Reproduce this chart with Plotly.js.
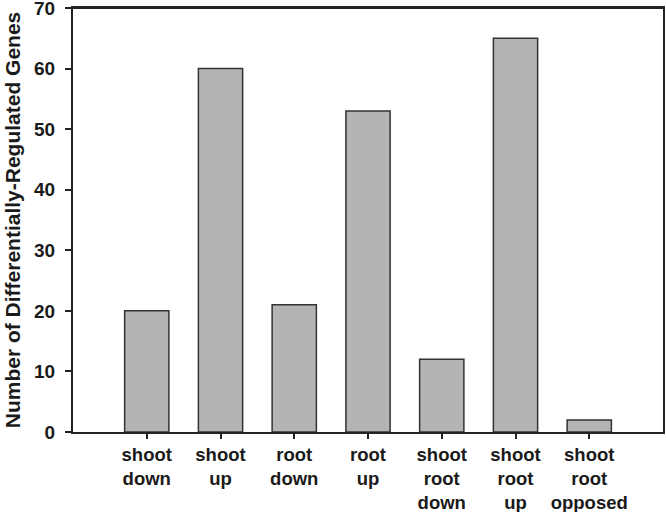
<!DOCTYPE html>
<html>
<head>
<meta charset="utf-8">
<script src="https://cdn.plot.ly/plotly-3.0.1.min.js"></script>
<style>html,body{margin:0;padding:0;background:#fff;}#chart{width:666px;height:512px;}</style>
</head>
<body>
<div id="chart"></div>
<script>
const categories = ["shoot<br>down", "shoot<br>up", "root<br>down", "root<br>up", "shoot<br>root<br>down", "shoot<br>root<br>up", "shoot<br>root<br>opposed"];
const values = [20, 60, 21, 53, 12, 65, 2];
const yTicks = [0, 10, 20, 30, 40, 50, 60, 70];

const positions = categories.map((_, i) => i);
const FONT = 'Liberation Sans, Arial, sans-serif';

const trace = {
  type: 'bar',
  x: positions,
  y: values,
  width: 0.6,
  marker: {color: '#b4b4b4', line: {color: '#333333', width: 1.5}},
  hoverinfo: 'skip'
};

const layout = {
  width: 666, height: 512,
  margin: {l: 73, r: 3, t: 8, b: 80},
  paper_bgcolor: '#ffffff', plot_bgcolor: '#ffffff',
  showlegend: false,
  font: {family: FONT, color: '#1a1a1a'},
  xaxis: {
    range: [-1, 7],
    tickmode: 'array', tickvals: positions, ticktext: categories.map(c => '<b>' + c + '</b>'),
    ticks: 'outside', ticklen: 5, tickwidth: 2, tickcolor: '#222',
    showline: true, linecolor: '#222', linewidth: 2, mirror: true,
    showgrid: false, zeroline: false,
    tickfont: {size: 18.5, family: FONT, color: '#1a1a1a'},
    ticklabelstandoff: 0,
    ticklabeloverflow: 'allow',
    automargin: false,
    fixedrange: true
  },
  yaxis: {
    range: [0, 70.001],
    tickmode: 'array', tickvals: yTicks, ticktext: yTicks.map(v => '<b>' + v + '</b>'),
    ticks: 'outside', ticklen: 6, tickwidth: 2, tickcolor: '#222',
    showline: true, linecolor: '#222', linewidth: 2, mirror: true,
    showgrid: false, zeroline: false,
    tickfont: {size: 19, family: FONT, color: '#1a1a1a'},
    ticklabelstandoff: 6,
    ticklabeloverflow: 'allow',
    title: {text: '<b>Number of Differentially-Regulated Genes</b>', font: {size: 21, family: FONT, color: '#1a1a1a'}, standoff: 8},
    automargin: false,
    fixedrange: true
  },
  shapes: [
    {type: 'line', xref: 'paper', yref: 'paper', x0: -0.012, x1: 0, y0: 0, y1: 0, line: {color: '#222', width: 2}},
    {type: 'line', xref: 'paper', yref: 'paper', x0: 0, x1: 1, y0: 1, y1: 1, line: {color: '#222', width: 2}}
  ]
};

Plotly.newPlot('chart', [trace], layout, {displayModeBar: false, staticPlot: true});
</script>
</body>
</html>
